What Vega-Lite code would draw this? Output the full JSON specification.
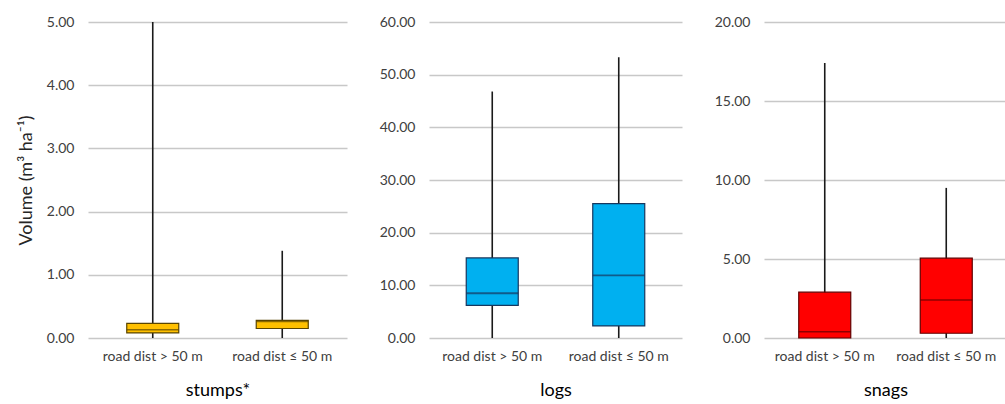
{
  "$schema": "https://vega.github.io/schema/vega-lite/v6.json",
  "padding": {"left": 17, "top": 15, "right": 0, "bottom": 5},
  "background": "white",
  "spacing": 32,
  "config": {
    "font": "Lato",
    "view": {"stroke": null},
    "axis": {
      "labelFont": "Lato", "labelFontSize": 14, "labelColor": "#404040",
      "titleFont": "Lato", "titleFontWeight": "normal", "titleColor": "#262626",
      "ticks": false, "domain": false, "gridColor": "#c8c8c8", "gridWidth": 1.5
    }
  },
  "datasets": {
    "box": [
      {"panel": "stumps", "group": "road dist > 50 m", "min": 0.0, "q1": 0.08, "median": 0.13, "q3": 0.23, "max": 5.0},
      {"panel": "stumps", "group": "road dist ≤ 50 m", "min": 0.0, "q1": 0.15, "median": 0.26, "q3": 0.28, "max": 1.38},
      {"panel": "logs", "group": "road dist > 50 m", "min": 0.0, "q1": 6.2, "median": 8.5, "q3": 15.2, "max": 46.8},
      {"panel": "logs", "group": "road dist ≤ 50 m", "min": 0.0, "q1": 2.3, "median": 11.9, "q3": 25.5, "max": 53.3},
      {"panel": "snags", "group": "road dist > 50 m", "min": 0.0, "q1": 0.0, "median": 0.4, "q3": 2.9, "max": 17.4},
      {"panel": "snags", "group": "road dist ≤ 50 m", "min": 0.0, "q1": 0.3, "median": 2.4, "q3": 5.05, "max": 9.5}
    ]
  },
  "hconcat": [
    {
      "width": 259, "height": 316,
      "data": {"name": "box"},
      "transform": [{"filter": "datum.panel === 'stumps'"}],
      "encoding": {
        "x": {"field": "group", "type": "nominal", "sort": null,
              "scale": {"paddingInner": 0, "paddingOuter": 0},
              "axis": {"title": "stumps*", "labelAngle": 0, "labelPadding": 11, "titleFontSize": 18, "titlePadding": 18, "titleColor": "#000000"}}
      },
      "layer": [
        {"mark": {"type": "rule", "color": "#1a1a1a", "strokeWidth": 1.6},
         "encoding": {"y": {"field": "min", "type": "quantitative", "scale": {"domain": [0, 5]},
                            "axis": {"values": [0, 1, 2, 3, 4, 5], "format": ".2f", "labelPadding": 14,
                                     "title": "Volume (m³ ha⁻¹)", "titleFontSize": 18, "titlePadding": 11}},
                      "y2": {"field": "max"}}},
        {"mark": {"type": "bar", "size": 52, "color": "#FFC000", "stroke": "#5a4500", "strokeWidth": 1.2},
         "encoding": {"y": {"field": "q1", "type": "quantitative"}, "y2": {"field": "q3"}}},
        {"mark": {"type": "tick", "size": 52, "color": "#5a4500", "thickness": 1.5},
         "encoding": {"y": {"field": "median", "type": "quantitative"}}}
      ]
    },
    {
      "width": 253, "height": 316,
      "data": {"name": "box"},
      "transform": [{"filter": "datum.panel === 'logs'"}],
      "encoding": {
        "x": {"field": "group", "type": "nominal", "sort": null,
              "scale": {"paddingInner": 0, "paddingOuter": 0},
              "axis": {"title": "logs", "labelAngle": 0, "labelPadding": 11, "titleFontSize": 18, "titlePadding": 18, "titleColor": "#000000"}}
      },
      "layer": [
        {"mark": {"type": "rule", "color": "#1a1a1a", "strokeWidth": 1.6},
         "encoding": {"y": {"field": "min", "type": "quantitative", "scale": {"domain": [0, 60]},
                            "axis": {"values": [0, 10, 20, 30, 40, 50, 60], "format": ".2f", "labelPadding": 14, "title": null}},
                      "y2": {"field": "max"}}},
        {"mark": {"type": "bar", "size": 52, "color": "#00B0F0", "stroke": "#17375E", "strokeWidth": 1.2},
         "encoding": {"y": {"field": "q1", "type": "quantitative"}, "y2": {"field": "q3"}}},
        {"mark": {"type": "tick", "size": 52, "color": "#17375E", "thickness": 1.8},
         "encoding": {"y": {"field": "median", "type": "quantitative"}}}
      ]
    },
    {
      "width": 243, "height": 316,
      "data": {"name": "box"},
      "transform": [{"filter": "datum.panel === 'snags'"}],
      "encoding": {
        "x": {"field": "group", "type": "nominal", "sort": null,
              "scale": {"paddingInner": 0, "paddingOuter": 0},
              "axis": {"title": "snags", "labelAngle": 0, "labelPadding": 11, "titleFontSize": 18, "titlePadding": 18, "titleColor": "#000000"}}
      },
      "layer": [
        {"mark": {"type": "rule", "color": "#1a1a1a", "strokeWidth": 1.6},
         "encoding": {"y": {"field": "min", "type": "quantitative", "scale": {"domain": [0, 20]},
                            "axis": {"values": [0, 5, 10, 15, 20], "format": ".2f", "labelPadding": 14, "title": null}},
                      "y2": {"field": "max"}}},
        {"mark": {"type": "bar", "size": 52, "color": "#FF0000", "stroke": "#600000", "strokeWidth": 1.2},
         "encoding": {"y": {"field": "q1", "type": "quantitative"}, "y2": {"field": "q3"}}},
        {"mark": {"type": "tick", "size": 52, "color": "#600000", "thickness": 1.5},
         "encoding": {"y": {"field": "median", "type": "quantitative"}}}
      ]
    }
  ]
}
